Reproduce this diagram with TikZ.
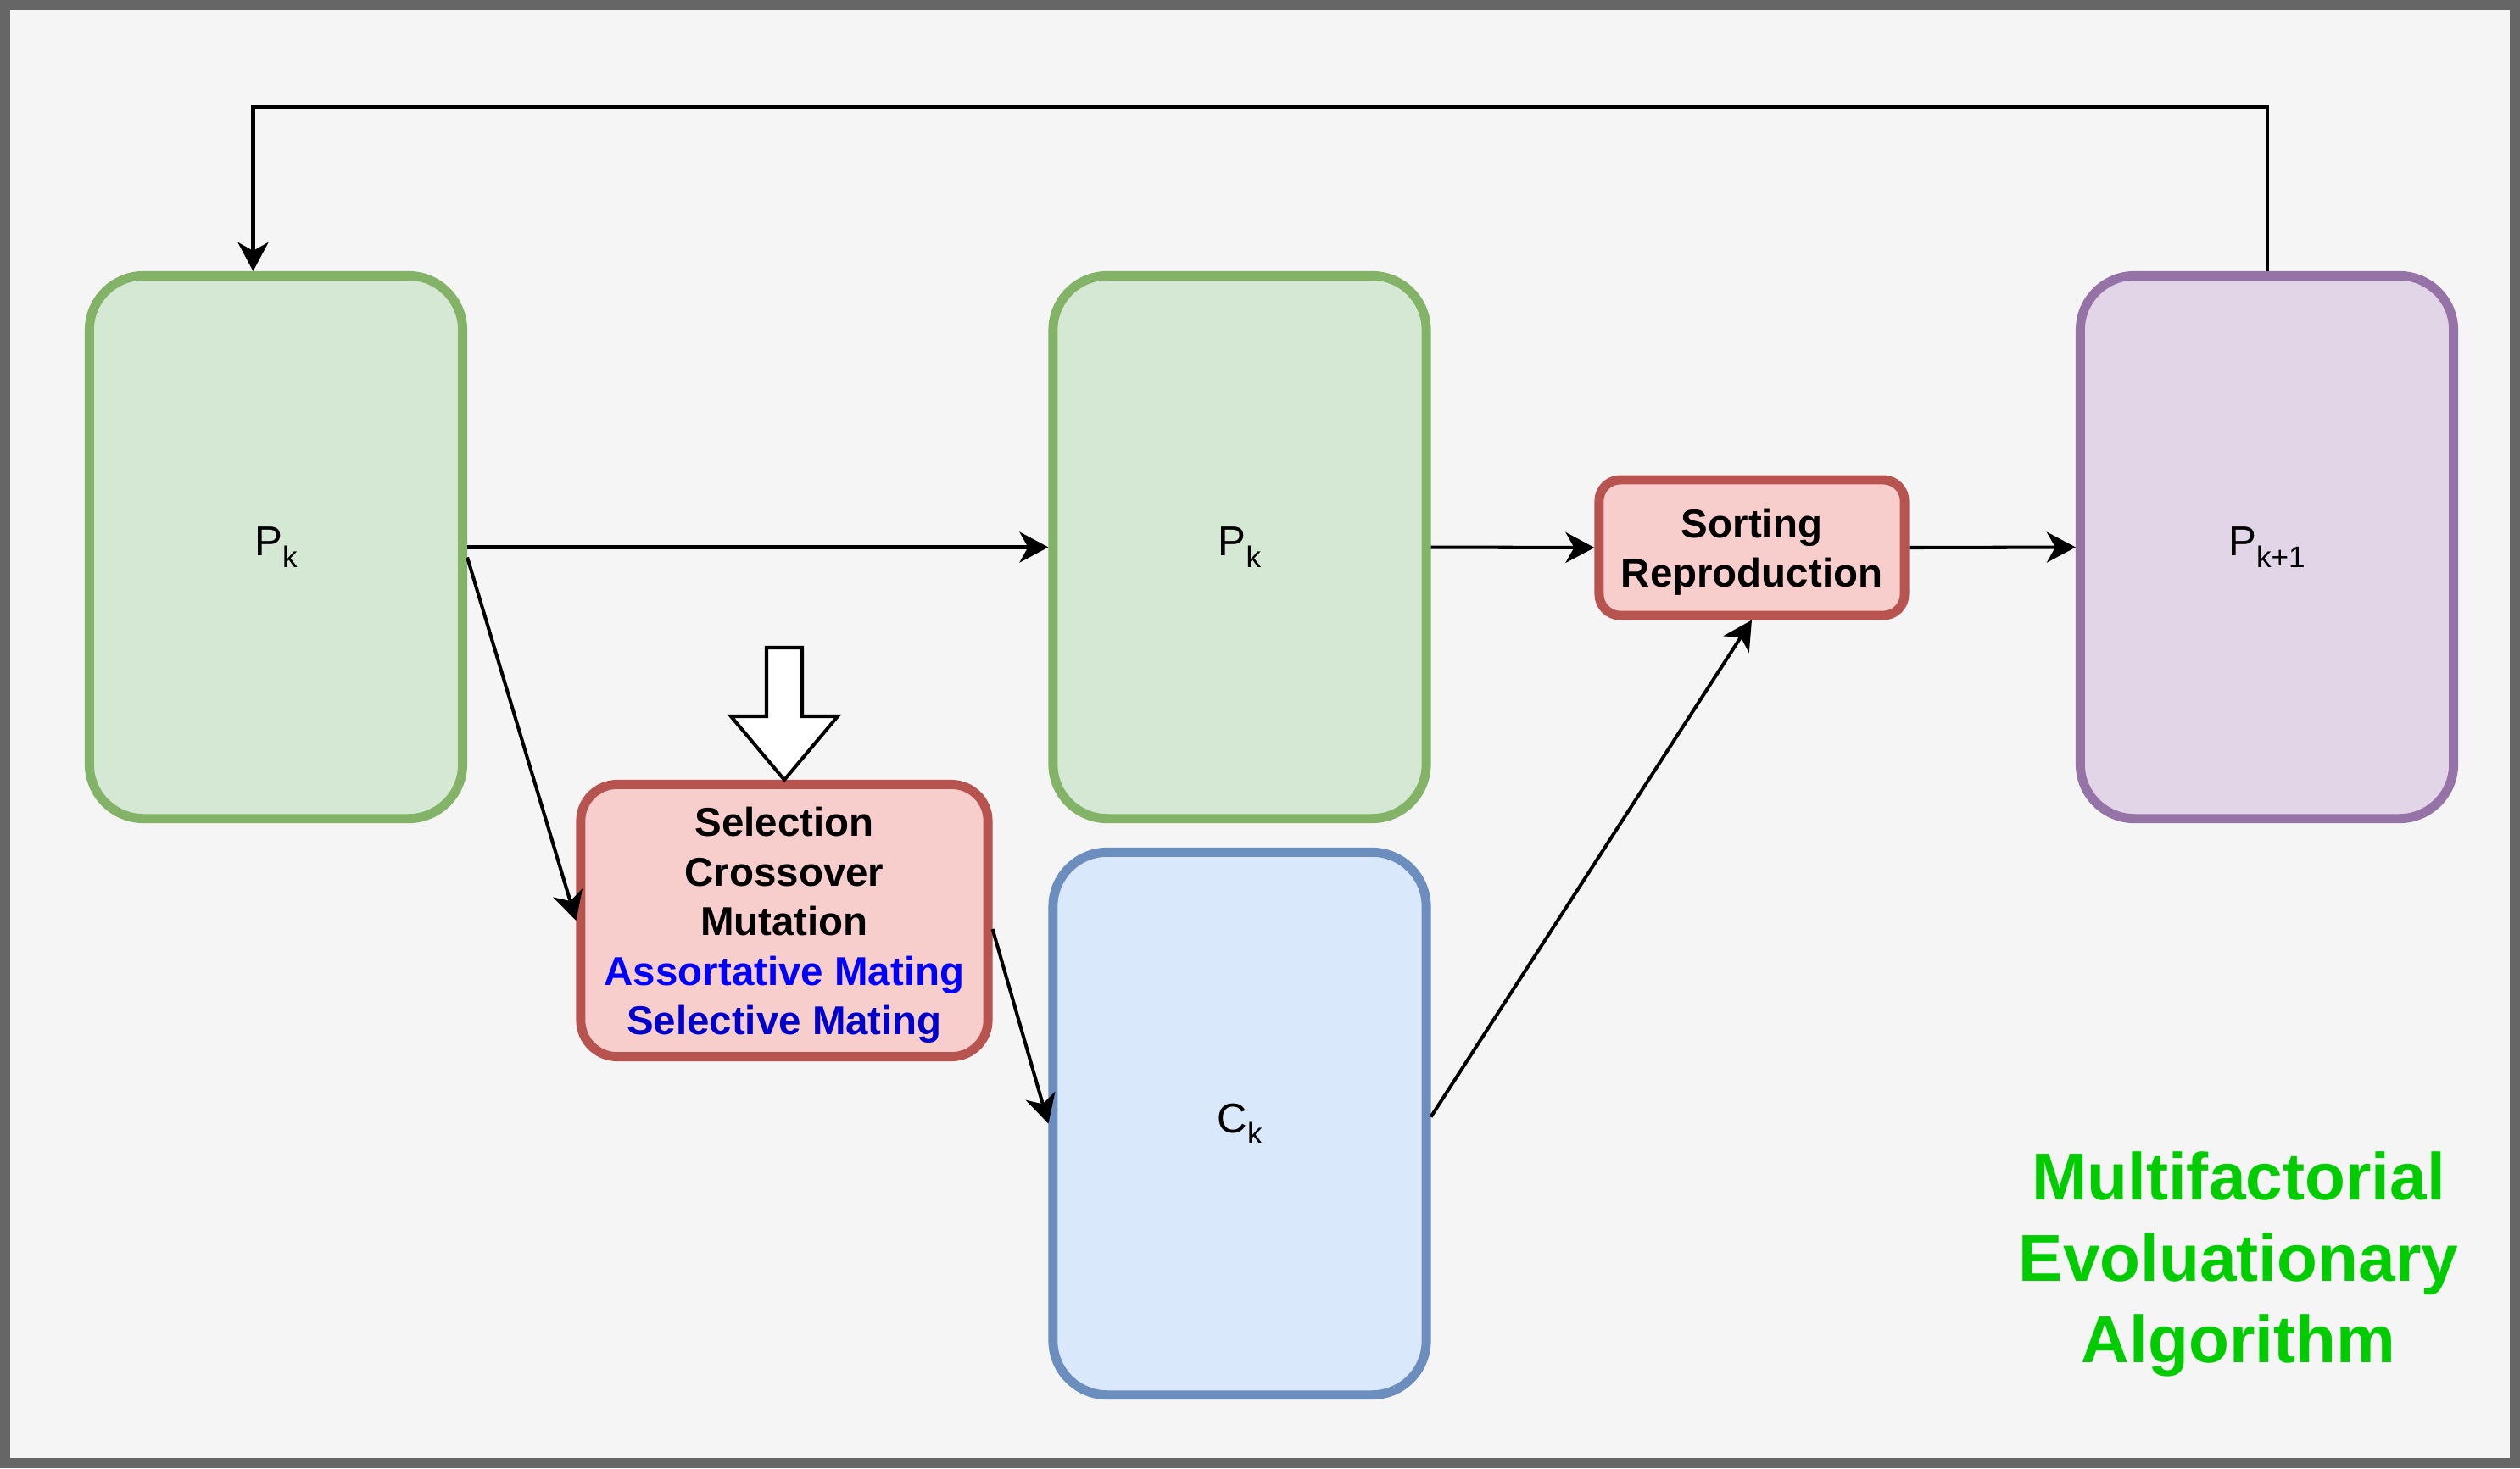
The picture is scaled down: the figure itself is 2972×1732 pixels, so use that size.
\documentclass[tikz,border=0pt]{standalone}
\usepackage{fontspec}
\setmainfont{Liberation Sans}
\usetikzlibrary{arrows.meta,calc}

\definecolor{frameGray}{HTML}{666666}
\definecolor{canvas}{HTML}{F5F5F5}
\definecolor{greenFill}{HTML}{D5E8D4}
\definecolor{greenLine}{HTML}{82B366}
\definecolor{blueFill}{HTML}{DAE8FC}
\definecolor{blueLine}{HTML}{6C8EBF}
\definecolor{redFill}{HTML}{F8CECC}
\definecolor{redLine}{HTML}{B85450}
\definecolor{purpleFill}{HTML}{E1D5E7}
\definecolor{purpleLine}{HTML}{9673A6}
\definecolor{titleGreen}{HTML}{00CC00}
\definecolor{mateBlue}{HTML}{0000FF}
\definecolor{mateDarkBlue}{HTML}{0000CC}

% lowered, smaller index after a population symbol
\newcommand{\popsub}[1]{\raisebox{-3.8pt}{\fontsize{10pt}{10pt}\selectfont #1}}
% taller first line, so the text block sits a little lower in its box
\newcommand{\topstrut}{\rule{0pt}{12.9pt}}

\tikzset{
  popbox/.style={draw, rounded corners=0.64cm, line width=3.1pt,
    minimum width=4.4cm, minimum height=6.4cm, inner sep=0pt,
    font=\fontsize{14pt}{16pt}\selectfont},
  opbox/.style={draw=redLine, fill=redFill, line width=3.1pt, inner sep=0pt,
    align=center, font=\fontsize{13.5pt}{16.6pt}\selectfont\bfseries},
  conn/.style={line width=1.15pt,
    -{Stealth[length=0.34cm,width=0.36cm,inset=0.1cm]}},
  hollowarrow/.style={draw=black, fill=white, line width=1.15pt, line join=miter},
}

\begin{document}
\begin{tikzpicture}[x=0.01cm, y=-0.01cm]
  % frame and canvas
  \fill[frameGray] (0,0) rectangle (2972,1732);
  \fill[canvas] (12,12) rectangle (2960,1720);

  % populations
  \node[popbox, draw=greenLine, fill=greenFill] (p1) at (325.5,645.5) {P\popsub{k}};
  \node[popbox, draw=greenLine, fill=greenFill] (p2) at (1462,645.5) {P\popsub{k}};
  \node[popbox, draw=blueLine, fill=blueFill] (ck) at (1462,1325.5) {C\popsub{k}};
  \node[popbox, draw=purpleLine, fill=purpleFill] (p3) at (2673.5,645.5) {P\popsub{k+1}};

  % operators
  \node[opbox, minimum width=4.8cm, minimum height=3.21cm, rounded corners=0.43cm]
    (sel) at (925,1086)
    {\topstrut Selection\\Crossover\\Mutation\\{\color{mateBlue}Assortative Mating}\\{\color{mateDarkBlue}Selective Mating}};
  \node[opbox, minimum width=3.6cm, minimum height=1.6cm, rounded corners=0.25cm]
    (srt) at (2066,646) {\topstrut Sorting\\Reproduction};

  % title
  \node[text=titleGreen, align=center, font=\fontsize{22.3pt}{27.3pt}\selectfont\bfseries]
    (title) at (2640,1491) {Multifactorial\\Evoluationary\\Algorithm};

  % connectors
  \coordinate (loopend) at ($(p1.north)+(-27,0)$);
  \draw[conn] (p3.north) -- ++(0,-194) -| (loopend);
  \draw[conn] (p1.east) -- (p2.west);
  \draw[conn] ([yshift=-0.12cm]p1.east) -- (sel.west);
  \draw[conn] ([yshift=-0.1cm]sel.east) -- (ck.west);
  \draw[conn] ([yshift=0.08cm]ck.east) -- (srt.south);
  \draw[conn] (p2.east) -- (srt.west);
  \draw[conn] (srt.east) -- (p3.west);

  % hollow input arrow into the operator box
  \draw[hollowarrow] (sel.north) -- ++(63,-75) -- ++(-42,0) -- ++(0,-81)
    -- ++(-42,0) -- ++(0,81) -- ++(-42,0) -- cycle;
\end{tikzpicture}
\end{document}
